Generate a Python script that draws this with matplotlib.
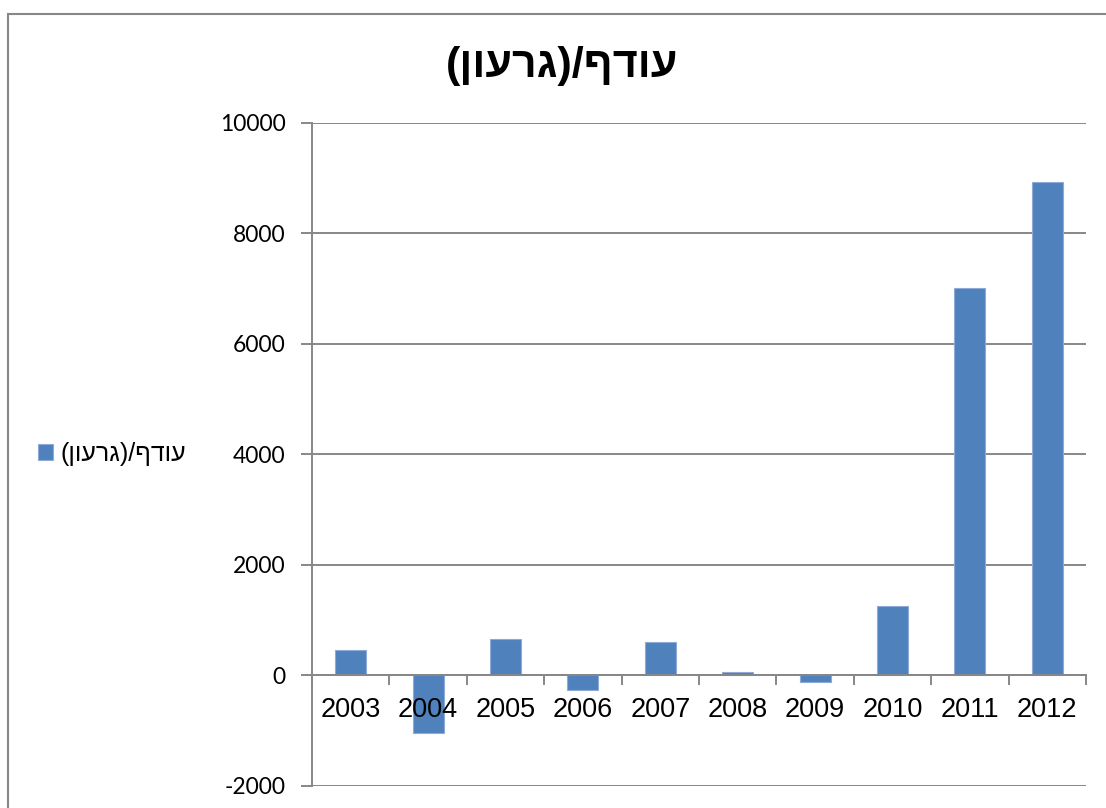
import matplotlib
matplotlib.use("Agg")
import matplotlib.pyplot as plt
from matplotlib.patches import Rectangle
import numpy as np

# data
years = ["2003", "2004", "2005", "2006", "2007", "2008", "2009", "2010", "2011", "2012"]
surplus = [460, -1050, 650, -265, 600, 60, -120, 1250, 7000, 8920]

# Hebrew written in visual order (matplotlib has no bidi)
title_txt = "(ןוערג)/ףדוע"
yticks = [-2000, 0, 2000, 4000, 6000, 8000, 10000]

bar_col = "#4F81BD"
grid_col = "#878787"
heb = ["Liberation Sans", "DejaVu Sans"]

fig = plt.figure(figsize=(11.06, 8.08), dpi=100)
ax = fig.add_axes([312 / 1106, 1 - 785.7 / 808, 774 / 1106, 663 / 808])
ax.set_axisbelow(False)

x = np.arange(len(years))
ax.bar(x, surplus, width=0.4, color=bar_col, edgecolor="#8eaad6", linewidth=0.8,
       zorder=2, label=title_txt)

ax.set_xlim(-0.5, len(years) - 0.5)
ax.set_ylim(-2000, 10000)
ax.set_yticks(yticks)
for v in yticks:
    ax.axhline(v, color=grid_col, lw=1.4, zorder=1)

ax.set_xticks(x)
ax.set_xticks(np.arange(-0.5, len(years)), minor=True)
ax.tick_params(axis="x", which="major", length=0, pad=16)
ax.tick_params(axis="x", which="minor", length=7, width=1.4, color=grid_col, direction="out")
ax.tick_params(axis="y", length=8, width=1.4, color=grid_col, pad=11)

for s in ["top", "right"]:
    ax.spines[s].set_visible(False)
ax.spines["bottom"].set_position(("data", 0))
ax.spines["bottom"].set_color(grid_col)
ax.spines["bottom"].set_linewidth(1.4)
ax.spines["left"].set_color(grid_col)
ax.spines["left"].set_linewidth(1.4)

ax.set_xticklabels(years, fontfamily="Liberation Sans", fontsize=19.5)
ax.set_yticklabels([str(v) for v in yticks], fontfamily="Lato", fontsize=16.5)

fig.text(562 / 1106, 1 - 66 / 808, title_txt, ha="center", va="center",
         fontsize=31, fontweight="bold", family=heb)

fig.legend(loc="center left", bbox_to_anchor=(15 / 1106, 1 - 454 / 808),
           frameon=False, prop={"family": heb, "size": 18},
           handlelength=0.6, handleheight=0.6, handletextpad=0.3)

# outer chart border
fig.patches.append(Rectangle((8 / 1106, -0.1), 1.2, 1 - 14 / 808 + 0.1,
                             transform=fig.transFigure, fill=False,
                             edgecolor=grid_col, lw=1.5))

fig.savefig("out.png", dpi=100)
